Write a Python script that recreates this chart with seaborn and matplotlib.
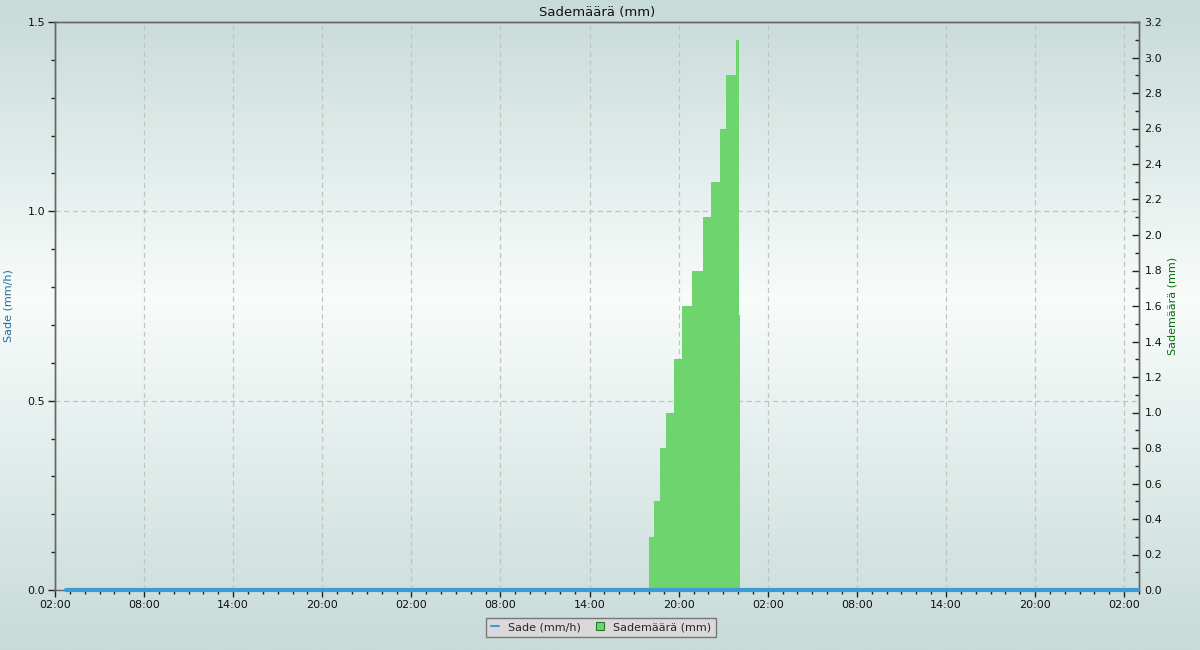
import numpy as np
import pandas as pd
import matplotlib
matplotlib.use("Agg")
import matplotlib.pyplot as plt
import matplotlib.dates as mdates
from matplotlib.colors import LinearSegmentedColormap
from matplotlib.lines import Line2D
from matplotlib.patches import Patch
from matplotlib.ticker import MultipleLocator, FormatStrFormatter
import seaborn as sns

# Sade (mm/h): rain intensity, flat zero over the whole period
sade_times = pd.to_datetime(["2024-05-01 02:45", "2024-05-04 02:55"])
sade_values = [0.0, 0.0]

# Sademäärä (mm): cumulative rainfall, step values
summa_times = pd.to_datetime([
    "2024-05-02 18:00", "2024-05-02 18:20", "2024-05-02 18:45", "2024-05-02 19:10",
    "2024-05-02 19:40", "2024-05-02 20:15", "2024-05-02 20:55", "2024-05-02 21:40",
    "2024-05-02 22:10", "2024-05-02 22:45", "2024-05-02 23:10", "2024-05-02 23:50",
    "2024-05-03 00:03", "2024-05-03 00:07",
])
summa_values = [0.3, 0.5, 0.8, 1.0, 1.3, 1.6, 1.8, 2.1, 2.3, 2.6, 2.9, 3.1, 1.55, 0.0]

x_start = pd.Timestamp("2024-05-01 02:00")
x_end = pd.Timestamp("2024-05-04 03:00")

sns.set_theme(style="white")
plt.rcParams["font.family"] = ["DejaVu Sans"]

fig = plt.figure(figsize=(12, 6.5), dpi=100)

# background gradient over the whole figure
bg = fig.add_axes([0, 0, 1, 1], zorder=-10)
cmap = LinearSegmentedColormap.from_list(
    "bg", [(0.0, "#c7dbd8"), (0.46, "#f8fcfb"), (1.0, "#c7dbd8")])
grad = np.linspace(0, 1, 400).reshape(-1, 1)
bg.imshow(grad, aspect="auto", cmap=cmap, extent=[0, 1, 0, 1], origin="upper")
bg.set_axis_off()

# left axis (grid) below, right axis (data) on top
ax = fig.add_axes([55 / 1200, 60 / 650, 1084 / 1200, 568 / 650])
ax.patch.set_visible(False)
ax2 = ax.twinx()
ax2.patch.set_visible(False)

ax2.fill_between(summa_times, summa_values, step="post", color="#6ed46e",
                 linewidth=0, zorder=2)
sns.lineplot(x=sade_times, y=sade_values, ax=ax2, color="#3c9ad6",
             linewidth=3, zorder=10, clip_on=False)

ax.set_xlim(x_start, x_end)
ax.set_ylim(0, 1.5)
ax2.set_ylim(0, 3.2)

ax.xaxis.set_major_locator(mdates.HourLocator(byhour=[2, 8, 14, 20]))
ax.xaxis.set_minor_locator(mdates.HourLocator(interval=1))
ax.xaxis.set_major_formatter(mdates.DateFormatter("%H:%M"))
ax.yaxis.set_major_locator(MultipleLocator(0.5))
ax.yaxis.set_minor_locator(MultipleLocator(0.1))
ax2.yaxis.set_major_locator(MultipleLocator(0.2))
ax2.yaxis.set_minor_locator(MultipleLocator(0.1))
ax.yaxis.set_major_formatter(FormatStrFormatter("%.1f"))
ax2.yaxis.set_major_formatter(FormatStrFormatter("%.1f"))

ax.tick_params(axis="both", which="major", direction="out", length=5, width=1,
               color="#222222", labelsize=8, labelcolor="#111111", pad=2)
ax.tick_params(axis="both", which="minor", direction="out", length=3, width=1,
               color="#222222")
ax.tick_params(axis="x", which="both", bottom=True)
ax.tick_params(axis="y", which="both", left=True)
ax2.tick_params(axis="y", which="major", direction="in", length=5, width=1,
                color="#222222", labelsize=8, labelcolor="#111111", pad=4, right=True)
ax2.tick_params(axis="y", which="minor", direction="in", length=3, width=1,
                color="#222222", right=True)

ax.grid(True, which="major", axis="both", linestyle=(0, (4, 3)), color="#c2c2c2",
        linewidth=0.9)
ax2.grid(False)

for a in (ax, ax2):
    for s in a.spines.values():
        s.set_color("#666666")
        s.set_linewidth(1)
ax2.spines["bottom"].set_visible(False)

ax.set_xlabel("")
ax.set_ylabel("Sade (mm/h)", color="#1f6ea0", fontsize=8, labelpad=10)
ax2.set_ylabel("Sademäärä (mm)", color="#0d6b0d", fontsize=8, labelpad=4)
ax.set_title("Sademäärä (mm)", fontsize=9.5, color="#111111", pad=4)

handles = [
    Line2D([0], [0], color="#3c9ad6", linewidth=1.5),
    Patch(facecolor="#6ed46e", edgecolor="#2a7a2a", linewidth=0.8),
]
leg = fig.legend(handles, ["Sade (mm/h)", "Sademäärä (mm)"], loc="center",
                 bbox_to_anchor=(601 / 1200, 1 - 627 / 650), ncol=2, fontsize=8,
                 frameon=True, fancybox=False, handlelength=0.8, handleheight=0.8,
                 columnspacing=1.3, handletextpad=0.8, borderpad=0.4)
leg.get_frame().set_facecolor("#d9d9d9")
leg.get_frame().set_edgecolor("#777777")
leg.get_frame().set_alpha(1)

fig.savefig("out.png", dpi=100)
